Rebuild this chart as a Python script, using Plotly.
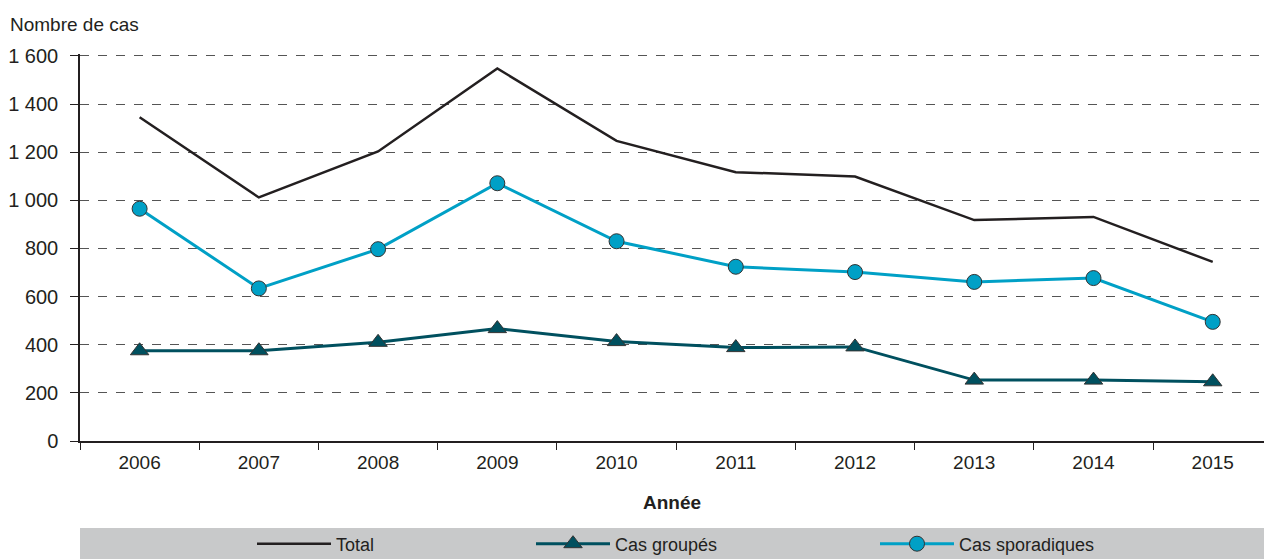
import plotly.graph_objects as go

years = ["2006", "2007", "2008", "2009", "2010", "2011", "2012", "2013", "2014", "2015"]
total = [1345, 1012, 1203, 1548, 1247, 1117, 1099, 918, 931, 744]
groupes = [375, 375, 410, 467, 413, 388, 391, 253, 253, 246]
sporadiques = [965, 634, 797, 1071, 830, 724, 702, 661, 677, 495]

y_ticks = [0, 200, 400, 600, 800, 1000, 1200, 1400, 1600]
y_ticktext = ["0", "200", "400", "600", "800", "1 000", "1 200", "1 400", "1 600"]

FONT = "Liberation Sans, Arial, sans-serif"
C_TOTAL = "#231f20"
C_GROUPES = "#00505f"
C_SPORA = "#00a0c6"

fig = go.Figure()
fig.add_trace(go.Scatter(x=years, y=total, name="Total", mode="lines",
                         line=dict(color=C_TOTAL, width=2.5), legend="legend"))
fig.add_trace(go.Scatter(x=years, y=groupes, name="Cas groupés", mode="lines+markers",
                         line=dict(color=C_GROUPES, width=3),
                         marker=dict(symbol="triangle-up", size=16, color=C_GROUPES,
                                     line=dict(color="#333333", width=1)),
                         legend="legend2"))
fig.add_trace(go.Scatter(x=years, y=sporadiques, name="Cas sporadiques", mode="lines+markers",
                         line=dict(color=C_SPORA, width=3),
                         marker=dict(symbol="circle", size=15, color=C_SPORA,
                                     line=dict(color="#333333", width=1)),
                         legend="legend3"))

W, H = 1264, 559
L, T, B = 80, 54, 118
plot_w = W - L
plot_h = H - T - B

def px_to_paper_x(px):
    return (px - L) / plot_w

def px_to_paper_y(py):
    return (H - B - py) / plot_h

legend_common = dict(orientation="h", bgcolor="rgba(0,0,0,0)", borderwidth=0,
                     font=dict(family=FONT, size=18, color="#231f20"),
                     yanchor="middle", y=px_to_paper_y(544), xanchor="left",
                     itemwidth=74)

fig.update_layout(
    width=W, height=H,
    margin=dict(l=L, r=0, t=T, b=B, pad=0, autoexpand=False),
    paper_bgcolor="white", plot_bgcolor="white",
    font=dict(family=FONT, size=19, color="#231f20"),
    showlegend=True,
    legend=dict(legend_common, x=px_to_paper_x(252)),
    legend2=dict(legend_common, x=px_to_paper_x(531)),
    legend3=dict(legend_common, x=px_to_paper_x(875)),
    xaxis=dict(type="category", range=[-0.5, 9.43], tickson="boundaries",
               ticks="outside", ticklen=7, tickcolor="#231f20", tickwidth=1,
               showline=True, linecolor="#231f20", linewidth=1.5,
               showgrid=False, zeroline=False, automargin=False,
               ticklabelstandoff=3,
               tickfont=dict(family=FONT, size=19, color="#231f20"),
               title=dict(text="<b>Année</b>", font=dict(family=FONT, size=19, color="#231f20"),
                          standoff=24)),
    yaxis=dict(range=[0, 1608], tickvals=y_ticks, ticktext=y_ticktext,
               ticks="outside", ticklen=8, tickcolor="#231f20", tickwidth=1,
               showline=True, linecolor="#231f20", linewidth=1.5,
               showgrid=True, gridcolor="#555555", griddash="dash", gridwidth=1,
               zeroline=False, automargin=False, ticklabelstandoff=8,
               tickfont=dict(family=FONT, size=20, color="#231f20")),
    annotations=[dict(text="Nombre de cas", xref="paper", yref="paper",
                      x=px_to_paper_x(8), y=px_to_paper_y(24), xanchor="left", yanchor="middle",
                      showarrow=False, font=dict(family=FONT, size=19, color="#231f20"))],
    shapes=[dict(type="rect", xref="paper", yref="paper", x0=0, x1=1,
                 y0=px_to_paper_y(559), y1=px_to_paper_y(528),
                 fillcolor="#c8c9ca", line=dict(width=0), layer="below")],
)

fig.write_html("out.html", config={"displayModeBar": False},
               post_script="document.body.style.margin='0';document.body.style.overflow='hidden';")
